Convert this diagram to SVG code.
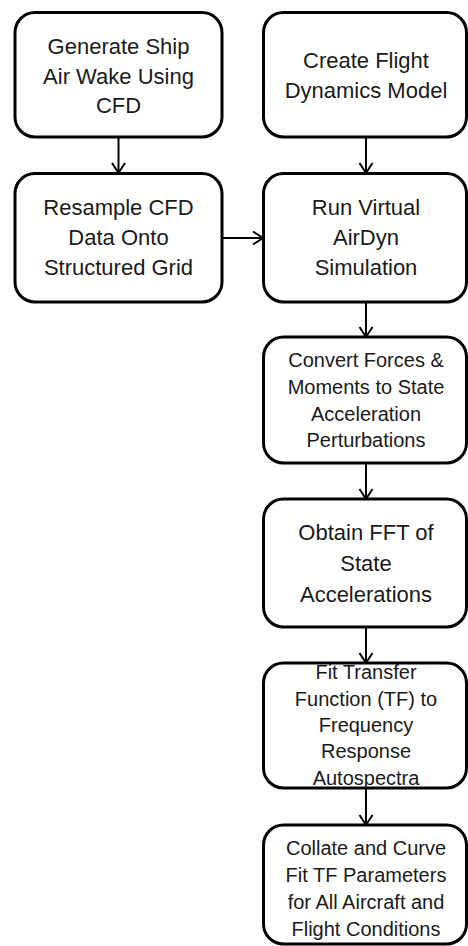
<svg xmlns="http://www.w3.org/2000/svg" width="468" height="946" viewBox="0 0 468 946">
<style>
.box{fill:#fff;stroke:#000;stroke-width:3}
.t{font-family:"Liberation Sans",Arial,sans-serif;font-size:22px;fill:#1a1a1a;text-anchor:middle}
.s{font-size:20px}
.c{fill:none;stroke:#000;stroke-width:2}
</style>
<defs>
<marker id="ah" markerUnits="userSpaceOnUse" markerWidth="16" markerHeight="16" viewBox="0 0 16 16" refX="14" refY="8" orient="auto">
<path d="M4,1.5 L14,8 L4,14.5" fill="none" stroke="#000" stroke-width="2"/>
</marker>
</defs>
<rect width="468" height="946" fill="#fff"/>
<g id="connectors">
<line class="c" x1="118.5" y1="137" x2="118.5" y2="173" marker-end="url(#ah)"/>
<line class="c" x1="366" y1="137" x2="366" y2="173" marker-end="url(#ah)"/>
<line class="c" x1="222" y1="238" x2="263" y2="238" marker-end="url(#ah)"/>
<line class="c" x1="366" y1="302" x2="366" y2="337" marker-end="url(#ah)"/>
<line class="c" x1="366" y1="463" x2="366" y2="499" marker-end="url(#ah)"/>
<line class="c" x1="366" y1="627" x2="366" y2="663" marker-end="url(#ah)"/>
<line class="c" x1="366" y1="770" x2="366" y2="825" marker-end="url(#ah)"/>
</g>
<g id="n1">
<rect class="box" x="15" y="12.5" width="207" height="124.5" rx="20"/>
<text class="t" x="118.5" y="54">Generate Ship</text>
<text class="t" x="118.5" y="84">Air Wake Using</text>
<text class="t" x="118.5" y="113">CFD</text>
</g>
<g id="n2">
<rect class="box" x="263.5" y="12.5" width="203" height="124.5" rx="20"/>
<text class="t" x="366" y="68">Create Flight</text>
<text class="t" x="366" y="98">Dynamics Model</text>
</g>
<g id="n3">
<rect class="box" x="15" y="173.5" width="207" height="128.5" rx="20"/>
<text class="t" x="118.5" y="215">Resample CFD</text>
<text class="t" x="118.5" y="245">Data Onto</text>
<text class="t" x="118.5" y="275">Structured Grid</text>
</g>
<g id="n4">
<rect class="box" x="263.5" y="173.5" width="203" height="128.5" rx="20"/>
<text class="t" x="366" y="215">Run Virtual</text>
<text class="t" x="366" y="245">AirDyn</text>
<text class="t" x="366" y="275">Simulation</text>
</g>
<g id="n5">
<rect class="box" x="263.5" y="337" width="203" height="126" rx="20"/>
<text class="t s" x="366" y="367">Convert Forces &amp;</text>
<text class="t s" x="366" y="394">Moments to State</text>
<text class="t s" x="366" y="421">Acceleration</text>
<text class="t s" x="366" y="447">Perturbations</text>
</g>
<g id="n6">
<rect class="box" x="263.5" y="499" width="203" height="128" rx="20"/>
<text class="t" x="366" y="540">Obtain FFT of</text>
<text class="t" x="366" y="571">State</text>
<text class="t" x="366" y="602">Accelerations</text>
</g>
<g id="n7">
<rect class="box" x="263.5" y="663" width="203" height="125" rx="20"/>
<text class="t s" x="366" y="679">Fit Transfer</text>
<text class="t s" x="366" y="706">Function (TF) to</text>
<text class="t s" x="366" y="732">Frequency</text>
<text class="t s" x="366" y="758">Response</text>
<text class="t s" x="366" y="785">Autospectra</text>
</g>
<g id="n8">
<rect class="box" x="263.5" y="825" width="203" height="119" rx="20"/>
<text class="t s" x="366" y="855">Collate and Curve</text>
<text class="t s" x="366" y="882">Fit TF Parameters</text>
<text class="t s" x="366" y="909">for All Aircraft and</text>
<text class="t s" x="366" y="936">Flight Conditions</text>
</g>
</svg>
